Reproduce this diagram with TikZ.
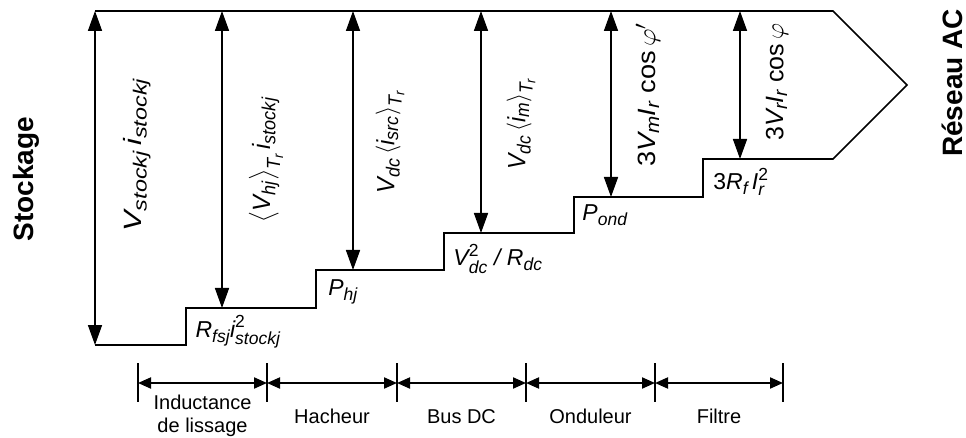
\documentclass[tikz,border=0pt]{standalone}
\usepackage{fix-cm}
\usepackage{amsmath}
\usepackage{graphicx}
\usepackage{fontspec}
\setmainfont{Liberation Sans}
\usetikzlibrary{arrows.meta}
\DeclareMathSizes{23}{23}{17.5}{13}
\DeclareMathSizes{25}{25}{19}{14}
\newcommand{\myit}[1]{\textit{#1}}
\newcommand{\vl}[2]{\resizebox{#1}{\height}{#2}}
\begin{document}
\begin{tikzpicture}[x=1pt,y=-1pt,
  outline/.style={line width=1.6pt, line join=miter},
  pwr/.style={line width=1.6pt, {Triangle[length=20pt,width=14pt]}-{Triangle[length=20pt,width=14pt]}},
  seg/.style={line width=2pt, {Triangle[length=13pt,width=11pt]}-{Triangle[length=13pt,width=11pt]}},
  tickmark/.style={line width=2pt},
  vlab/.style={rotate=90, inner sep=0pt, font=\fontsize{25}{29}\selectfont},
  hlab/.style={inner sep=0pt, font=\fontsize{23}{27}\selectfont},
  blab/.style={inner sep=0pt, anchor=base, align=center, font=\fontsize{20}{23}\selectfont},
  side/.style={rotate=90, inner sep=0pt, anchor=base, font=\fontsize{28}{32}\selectfont\bfseries}]
\useasboundingbox (0,0) rectangle (966,438);

% endpoints of the power arrows
\coordinate (t1) at (95,11);  \coordinate (b1) at (95,345);
\coordinate (t2) at (222,11); \coordinate (b2) at (222,308);
\coordinate (t3) at (353,11); \coordinate (b3) at (353,270);
\coordinate (t4) at (481,11); \coordinate (b4) at (481,233);
\coordinate (t5) at (611,11); \coordinate (b5) at (611,197);
\coordinate (t6) at (740,11); \coordinate (b6) at (740,159);
\coordinate (tip) at (907,85);

% staircase outline
\draw[outline] (t1) -- (833,11) -- (tip) -- (833,159) -- (703,159) -- (703,197)
  -- (574,197) -- (574,233) -- (444,233) -- (444,270) -- (316,270) -- (316,308)
  -- (186,308) -- (186,345) -- (b1);

% power arrows
\draw[pwr] (t1) -- (b1);
\draw[pwr] (t2) -- (b2);
\draw[pwr] (t3) -- (b3);
\draw[pwr] (t4) -- (b4);
\draw[pwr] (t5) -- (b5);
\draw[pwr] (t6) -- (b6);

% vertical labels
\node[vlab] (v1) at (137,155) {\vl{153pt}{$\myit{V}_{\myit{stockj}}\,\myit{i}_{\myit{stockj}}$}};
\node[vlab] (v2) at (266,160) {\vl{125pt}{$\left\langle \myit{V}_{\myit{hj}} \right\rangle_{\myit{T}_{\myit{r}}} \myit{i}_{\myit{stockj}}$}};
\node[vlab] (v3) at (390,142) {\vl{103pt}{$\myit{V}_{\myit{dc}} \left\langle \myit{i}_{\myit{src}} \right\rangle_{\myit{T}_{\myit{r}}}$}};
\node[vlab] (v4) at (521,124) {\vl{92pt}{$\myit{V}_{\myit{dc}} \left\langle \myit{i}_{\myit{m}} \right\rangle_{\myit{T}_{\myit{r}}}$}};
\node[vlab] (v5) at (648,95) {\vl{144pt}{$\text{3}\myit{V}_{\myit{m}}\myit{I}_{\myit{r}}\;\text{cos}\,\varphi'$}};
\node[vlab] (v6) at (777,82) {\vl{117pt}{$\text{3}\myit{V}_{\myit{r}}\myit{I}_{\myit{r}}\;\text{cos}\,\varphi$}};

% step labels
\node[hlab] (h1) at (238,332) {$\myit{R}_{\myit{fsj}}\myit{i}^{\text{2}}_{\myit{stockj}}$};
\node[hlab] (h2) at (343,292) {$\myit{P}_{\myit{hj}}$};
\node[hlab] (h3) at (498,259) {$\myit{V}^{\text{2}}_{\myit{dc}}\;\myit{/}\;\myit{R}_{\myit{dc}}$};
\node[hlab] (h4) at (605,215) {$\myit{P}_{\myit{ond}}$};
\node[hlab] (h5) at (741,182) {$\text{3}\myit{R}_{\myit{f}}\,\myit{I}^{\text{2}}_{\myit{r}}$};

% side titles
\node[side] (stock) at (33,179) {Stockage};
\node[side] (reseau) at (962,83) {Réseau AC};

% bottom segments
\foreach \i/\x in {0/138,1/267,2/397,3/526,4/655,5/783}{
  \coordinate (k\i a) at (\x,363);
  \coordinate (k\i b) at (\x,402);
  \coordinate (k\i) at (\x,383);
  \draw[tickmark] (k\i a) -- (k\i b);
}
\draw[seg] (k0) -- (k1);
\draw[seg] (k1) -- (k2);
\draw[seg] (k2) -- (k3);
\draw[seg] (k3) -- (k4);
\draw[seg] (k4) -- (k5);

\node[blab] (s1) at (202.5,432) {Inductance\\de lissage};
\node[blab] (s2) at (332,423) {Hacheur};
\node[blab] (s3) at (461.5,423) {Bus DC};
\node[blab] (s4) at (590.5,423) {Onduleur};
\node[blab] (s5) at (719,423) {Filtre};
\end{tikzpicture}
\end{document}
